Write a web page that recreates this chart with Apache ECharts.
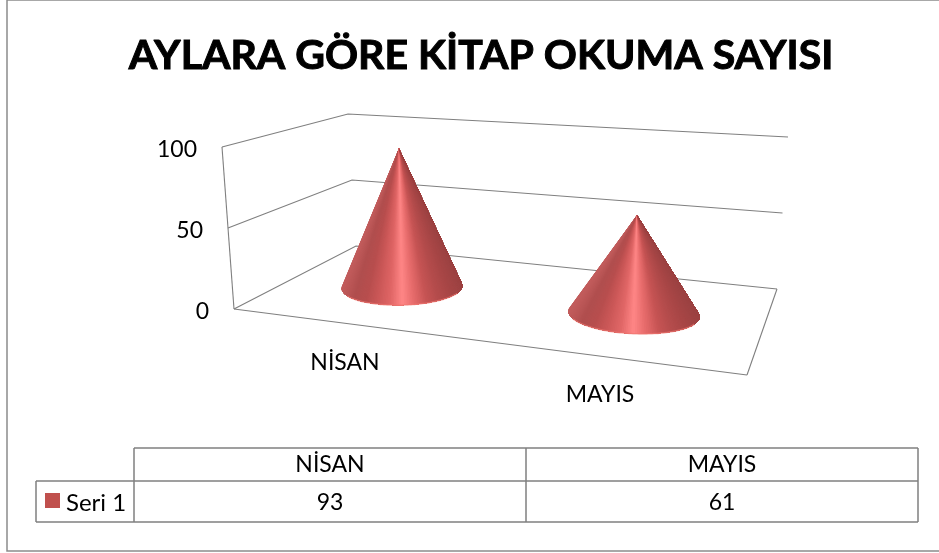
<!DOCTYPE html>
<html>
<head>
<meta charset="utf-8">
<style>html,body{margin:0;padding:0;background:#fff}#chart{width:939px;height:553px}</style>
<script src="https://cdn.jsdelivr.net/npm/echarts@6/dist/echarts.min.js"></script>
</head>
<body>
<div id="chart"></div>
<script>
const titleText = 'AYLARA GÖRE KİTAP OKUMA SAYISI';
const months = ['NİSAN', 'MAYIS'];
const seriesName = 'Seri 1';
const seri1 = [93, 61];
const yTicks = [0, 50, 100];

const fontName = 'Lato, "Noto Sans", sans-serif';
const lineGrey = '#7f7f7f';

// box corners on screen at value 0 and at value 100
const frontLeft = [[234, 309], [222, 147]];
const backLeft = [[356, 246], [348, 114]];
const backRight = [[777, 289], [788, 137]];
const frontRight = [747, 375];

// left to right shading of a cone
const coneRamp = ['#c25c5c', '#b04e4e', '#b84e4e', '#cc5858', '#e06666', '#ff8686', '#e56a6a', '#c65454', '#b44c4c', '#a84646', '#9c4242'];

const wallPoint = (corner, tick) => [
  corner[0][0] + (corner[1][0] - corner[0][0]) * tick / 100,
  corner[0][1] + (corner[1][1] - corner[0][1]) * tick / 100
];

// camera: things further right on the floor sit lower and look bigger
const floorShift = x => -23 + 0.1164 * (x - 402);
const depthScale = x => 0.92 + 0.08 * (x - 402) / 232;
const leanOut = x => (x - 518) * 0.026;
const baseTilt = x => (-1.4 + 4 * (x - 402) / 232) * Math.PI / 180;

const renderWalls = (params, api) => {
  const tick = api.value(0);
  const corner = wallPoint(frontLeft, tick);
  return {
    type: 'group',
    children: [
      {
        type: 'polyline',
        shape: { points: [corner, wallPoint(backLeft, tick), wallPoint(backRight, tick)] },
        style: { fill: 'none', stroke: lineGrey, lineWidth: 1.1 }
      },
      {
        type: 'text',
        x: corner[0] - 25,
        y: corner[1] + 3,
        style: { text: String(tick), fill: '#000', font: '23px ' + fontName, align: 'right', verticalAlign: 'middle' }
      }
    ]
  };
};

const renderEdges = () => {
  return {
    type: 'group',
    children: [
      [frontLeft[0], frontLeft[1]],
      [frontLeft[0], frontRight],
      [frontRight, backRight[0]]
    ].map(pts => ({
      type: 'polyline',
      shape: { points: pts },
      style: { fill: 'none', stroke: lineGrey, lineWidth: 1.1 }
    }))
  };
};

const renderCone = (params, api) => {
  const base = api.coord([api.value(0), 0]);
  const top = api.coord([api.value(0), api.value(1)]);
  const s = depthScale(base[0]);
  const cx = base[0];
  const cy = base[1] + floorShift(cx);
  const h = (base[1] - top[1]) * s;
  const ax = cx + leanOut(cx);
  const ay = cy - h;
  const rx = 65.7 * s;
  const ry = rx * 0.3;
  const tilt = baseTilt(cx);
  const edge = Math.asin(ry / h);
  const steps = 120;
  const angleAt = i => Math.PI + edge - (Math.PI + 2 * edge) * i / steps;
  const rim = a => {
    const ex = rx * Math.cos(a);
    const ey = ry * Math.sin(a);
    return [cx + ex * Math.cos(tilt) - ey * Math.sin(tilt), cy + ex * Math.sin(tilt) + ey * Math.cos(tilt)];
  };
  const children = [];
  // each slice reaches to the far end of the rim and the next one paints over it, so no seams
  for (let i = 0; i < steps; i++) {
    const pts = [[ax, ay]];
    for (let j = i; j <= steps; j++) pts.push(rim(angleAt(j)));
    const t = (1 - Math.cos(angleAt(i + 0.5))) / 2;
    const pos = Math.min(1, Math.max(0, 1 - t));
    children.push({
      type: 'polygon',
      shape: { points: pts },
      style: { fill: echarts.color.lerp(pos, coneRamp) }
    });
  }
  // lighter lip along the bottom of the base
  const lip = [];
  for (let j = 20; j <= steps - 20; j++) lip.push(rim(angleAt(j)));
  children.push({
    type: 'polyline',
    shape: { points: lip },
    style: { fill: 'none', stroke: '#f07670', lineWidth: 1.5, opacity: 0.6 }
  });
  return { type: 'group', children };
};

// data table under the plot
const tableX = [36, 134, 526, 918];
const tableY = [448, 481, 522];
const cellText = (text, x, y) => ({
  type: 'text',
  x,
  y,
  style: { text, fill: '#000', font: '23px ' + fontName, align: 'center', verticalAlign: 'middle' }
});
const rule = (x1, y1, x2, y2) => ({
  type: 'line',
  shape: { x1, y1, x2, y2 },
  style: { stroke: lineGrey, lineWidth: 1.5 }
});
const tableGraphics = [
  { type: 'rect', shape: { x: 7, y: 0, width: 940, height: 551 }, style: { fill: 'none', stroke: '#8c8c8c', lineWidth: 1.5 } },
  rule(tableX[1], tableY[0], tableX[3], tableY[0]),
  rule(tableX[0], tableY[1], tableX[3], tableY[1]),
  rule(tableX[0], tableY[2], tableX[3], tableY[2]),
  rule(tableX[0], tableY[1], tableX[0], tableY[2]),
  rule(tableX[1], tableY[0], tableX[1], tableY[2]),
  rule(tableX[2], tableY[0], tableX[2], tableY[2]),
  rule(tableX[3], tableY[0], tableX[3], tableY[2]),
  { type: 'rect', shape: { x: 45, y: 493, width: 15, height: 15 }, style: { fill: '#c0504d' } },
  {
    type: 'text', x: 66, y: 503,
    style: { text: seriesName, fill: '#000', font: '24px ' + fontName, align: 'left', verticalAlign: 'middle' }
  }
];
months.forEach((m, i) => {
  const mid = (tableX[i + 1] + tableX[i + 2]) / 2;
  tableGraphics.push(cellText(m, mid, 465));
  tableGraphics.push(cellText(String(seri1[i]), mid, 503));
});

const chart = echarts.init(document.getElementById('chart'));
chart.setOption({
  animation: false,
  backgroundColor: '#fff',
  title: {
    text: titleText,
    left: 476,
    top: 30,
    textAlign: 'center',
    textStyle: {
      fontFamily: fontName,
      fontSize: 41,
      fontWeight: 'bold',
      color: '#000',
      textBorderColor: '#000',
      textBorderWidth: 1
    }
  },
  grid: { left: 286, right: 189, top: 148, bottom: 243 },
  xAxis: {
    type: 'category',
    data: months,
    axisLine: { show: false },
    axisTick: { show: false },
    axisLabel: { show: false }
  },
  yAxis: {
    type: 'value',
    min: 0,
    max: 100,
    interval: 50,
    axisLine: { show: false },
    axisTick: { show: false },
    splitLine: { show: false },
    axisLabel: { show: false }
  },
  series: [
    {
      type: 'custom',
      name: 'walls',
      silent: true,
      clip: false,
      data: yTicks.map(t => [t]),
      renderItem: renderWalls,
      z: 1
    },
    {
      type: 'custom',
      name: 'edges',
      silent: true,
      clip: false,
      data: [[0]],
      renderItem: renderEdges,
      z: 1
    },
    {
      type: 'custom',
      name: seriesName,
      clip: false,
      data: seri1.map((v, i) => [i, v]),
      encode: { x: 0, y: 1 },
      renderItem: renderCone,
      z: 5
    }
  ],
  graphic: tableGraphics.concat(months.map((m, i) => ({
    type: 'text',
    x: [345, 600][i],
    y: [363, 395][i],
    style: { text: m, fill: '#000', font: '23px ' + fontName, align: 'center', verticalAlign: 'middle' }
  })))
});
</script>
</body>
</html>
